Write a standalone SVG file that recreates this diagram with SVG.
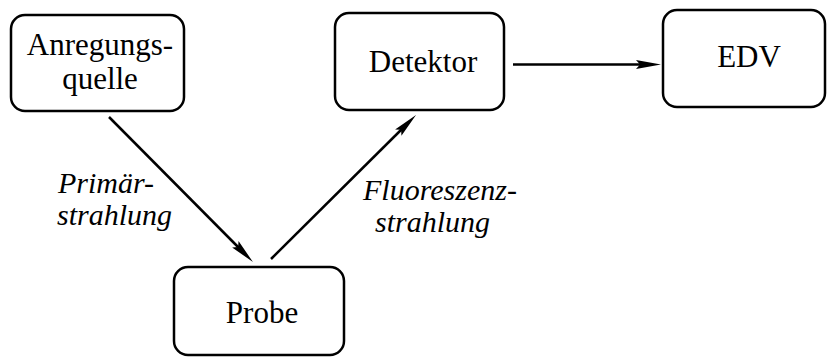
<svg xmlns="http://www.w3.org/2000/svg" width="827" height="358" viewBox="0 0 827 358">
  <style>
    .box { fill: #fff; stroke: #000; stroke-width: 2.5; }
    .lbl { font-family: "Liberation Serif", "Times New Roman", serif; font-size: 31px; fill: #000; text-anchor: middle; }
    .ital { font-family: "Liberation Serif", "Times New Roman", serif; font-size: 30px; font-style: italic; fill: #000; }
    .edge { stroke: #000; stroke-width: 2.5; fill: none; marker-end: url(#head); }
  </style>
  <defs>
    <marker id="head" markerUnits="userSpaceOnUse" orient="auto" markerWidth="30" markerHeight="12" refX="0" refY="0" viewBox="-14 -6 30 12" overflow="visible">
      <path d="M12,0 L-13,-4.5 L-9,0 L-13,4.5 Z" fill="#000"/>
    </marker>
  </defs>

  <g id="connectors">
    <line class="edge" x1="109" y1="117" x2="244.5" y2="253.5"/>
    <line class="edge" x1="271" y1="259" x2="407.5" y2="123.5"/>
    <line class="edge" x1="513" y1="64.5" x2="649" y2="64.5"/>
    <text class="ital" x="58" y="193">Primär-</text>
    <text class="ital" x="57" y="225">strahlung</text>
    <text class="ital" x="363" y="200">Fluoreszenz-</text>
    <text class="ital" x="375" y="232">strahlung</text>
  </g>

  <g id="anregungsquelle">
    <rect class="box" x="11" y="15" width="173" height="96" rx="14"/>
    <text class="lbl" x="100" y="55">Anregungs-</text>
    <text class="lbl" x="100" y="89">quelle</text>
  </g>

  <g id="detektor">
    <rect class="box" x="335" y="13" width="169" height="97" rx="14"/>
    <text class="lbl" x="423" y="72">Detektor</text>
  </g>

  <g id="edv">
    <rect class="box" x="663" y="10" width="162" height="97" rx="14"/>
    <text class="lbl" x="749" y="67">EDV</text>
  </g>

  <g id="probe">
    <rect class="box" x="174" y="267" width="170" height="88" rx="14"/>
    <text class="lbl" x="262" y="323">Probe</text>
  </g>
</svg>
